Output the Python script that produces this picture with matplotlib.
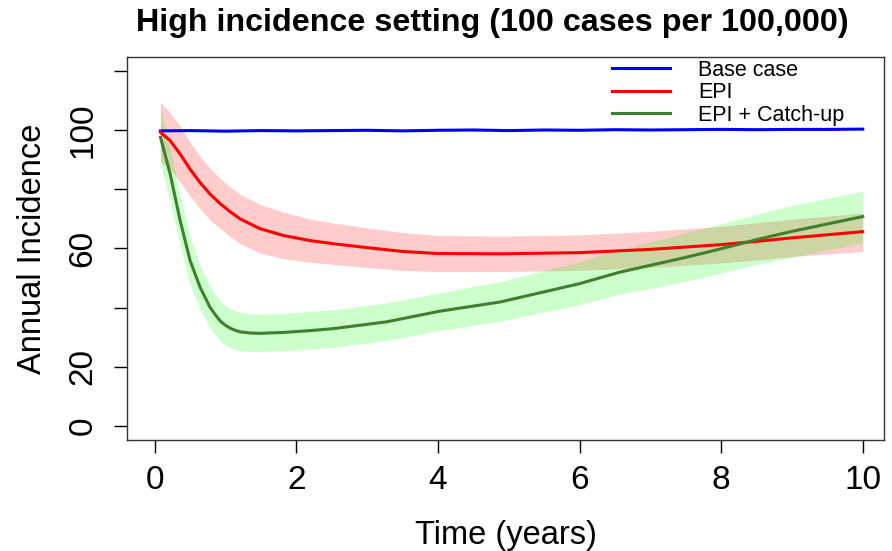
import numpy as np
import matplotlib
matplotlib.use("Agg")
import matplotlib.pyplot as plt

plt.rcParams['font.family'] = ['Liberation Sans', 'DejaVu Sans']

# Base case
t_base = [0.083, 0.5, 1, 1.5, 2, 2.5, 3, 3.5, 4, 4.5, 5, 5.5, 6, 6.5, 7, 7.5, 8, 8.5, 9, 9.5, 10]
base = [99.8, 99.9, 99.7, 99.9, 99.8, 99.9, 100.0, 99.8, 100.0, 100.1, 99.9,
        100.1, 100.0, 100.2, 100.1, 100.2, 100.3, 100.2, 100.3, 100.3, 100.4]

# EPI
t_epi = [0.083, 0.22, 0.36, 0.5, 0.64, 0.78, 0.93, 1.07, 1.21, 1.49, 1.82, 2.19,
         2.53, 3.0, 3.5, 4.0, 4.9, 6.0, 7.0, 8.0, 8.5, 9.0, 10.0]
epi = [99.3, 96.5, 92.0, 86.9, 82.4, 78.5, 75.1, 72.4, 70.0, 66.7, 64.4, 62.7,
       61.6, 60.3, 59.0, 58.3, 58.2, 58.6, 59.7, 61.3, 62.4, 63.6, 65.7]
epi_hi = [109.4, 106.0, 101.5, 96.0, 91.3, 87.2, 83.6, 80.8, 78.3, 74.9, 72.3, 70.0,
          68.6, 67.0, 65.4, 64.4, 64.2, 64.6, 65.8, 67.5, 68.7, 69.9, 72.0]
epi_lo = [89.2, 87.0, 82.5, 77.8, 73.5, 69.8, 66.6, 64.0, 61.7, 58.5, 56.5, 55.4,
          54.6, 53.6, 52.6, 52.2, 52.2, 52.6, 53.6, 55.1, 56.1, 57.3, 59.0]

# EPI + Catch-up
t_cu = [0.083, 0.22, 0.36, 0.5, 0.64, 0.78, 0.86, 0.93, 1.0, 1.07, 1.14, 1.21, 1.35,
        1.49, 1.82, 2.19, 2.53, 3.28, 4.03, 4.88, 6.0, 6.57, 7.0, 7.5, 8.0, 8.5, 9.0, 10.0]
cu = [97.6, 85.2, 69.5, 56.0, 47.0, 40.2, 37.5, 35.4, 34.0, 33.0, 32.3, 31.8, 31.4,
      31.3, 31.6, 32.2, 32.9, 35.2, 38.8, 41.9, 48.1, 52.0, 54.3, 57.0, 59.9, 63.0, 65.8, 70.8]
cu_hi = [107.3, 94.2, 78.0, 64.0, 54.5, 47.2, 44.3, 42.2, 40.7, 39.6, 38.9, 38.4, 37.9,
         37.8, 38.0, 38.7, 39.3, 41.6, 45.0, 48.8, 55.6, 59.8, 62.3, 65.3, 68.3, 71.6, 74.6, 79.4]
cu_lo = [88.3, 76.2, 61.0, 48.0, 39.5, 33.2, 30.6, 28.6, 27.3, 26.4, 25.8, 25.4, 25.2,
         25.2, 25.4, 25.9, 26.6, 28.9, 32.3, 35.4, 41.0, 44.6, 46.4, 48.9, 51.7, 54.6, 57.0, 62.0]

labels = ["Base case", "EPI", "EPI + Catch-up"]
colors = ["#0000FF", "#FF0000", "#3F7F2F"]

fig = plt.figure(figsize=(8.92, 5.51), dpi=100)
ax = fig.add_axes([127/892, 1 - 440/551, (884 - 127)/892, (440 - 57)/551])

ax.fill_between(t_epi, epi_lo, epi_hi, color=(1, 0, 0, 0.2), linewidth=0)
ax.fill_between(t_cu, cu_lo, cu_hi, color=(0, 1, 0, 0.2), linewidth=0)

l1, = ax.plot(t_base, base, color=colors[0], lw=2.2)
l2, = ax.plot(t_epi, epi, color=colors[1], lw=2.2)
l3, = ax.plot(t_cu, cu, color=colors[2], lw=2.2)

ax.set_xlim(-0.39, 10.3)
ax.set_ylim(-4.8, 124.8)

ax.set_xticks([0, 2, 4, 6, 8, 10])
ax.set_yticks([0, 20, 40, 60, 80, 100, 120])
ax.set_yticklabels(["0", "20", "", "60", "", "100", ""], rotation=90, va='center')
ax.tick_params(axis='both', direction='out', length=9.4, width=1, labelsize=24)
ax.tick_params(axis='x', pad=8.6)
ax.tick_params(axis='y', pad=11)
for s in ax.spines.values():
    s.set_linewidth(1)
    s.set_color('#333333')

ax.set_xlabel("Time (years)", fontsize=23.5, labelpad=17)
ax.set_ylabel("Annual Incidence", fontsize=23.5, labelpad=14)

fig.text(492/892, 1 - 23/551, "High incidence setting (100 cases per 100,000)",
         ha='center', va='center', fontsize=23.2, fontweight='bold')

leg = ax.legend([l1, l2, l3], labels, frameon=False, loc='upper left',
                bbox_to_anchor=(612/892, 1 - 60/551), bbox_transform=fig.transFigure,
                borderaxespad=0, borderpad=0, fontsize=15.5, handlelength=2.7,
                handletextpad=1.3, labelspacing=0.06)

fig.savefig("out.png", dpi=100)
